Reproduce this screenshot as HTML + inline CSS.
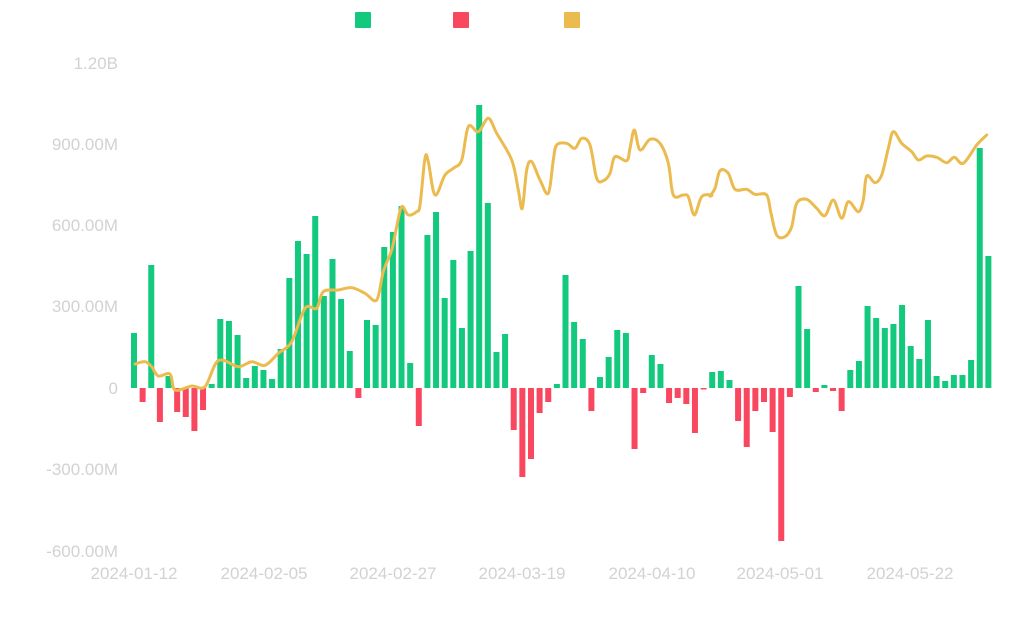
<!DOCTYPE html>
<html><head><meta charset="utf-8"><style>
html,body{margin:0;padding:0;background:#fff;width:1024px;height:630px;overflow:hidden}
text{font-family:"Liberation Sans","DejaVu Sans",sans-serif;fill:#d2d2d2;font-size:17px}
</style></head><body>
<svg id="s" width="1024" height="630" xmlns="http://www.w3.org/2000/svg">
<rect x="355" y="12" width="16" height="16" rx="1" fill="#12c97e"/>
<rect x="453" y="12" width="16" height="16" rx="1" fill="#f9475f"/>
<rect x="564" y="12" width="16" height="16" rx="1" fill="#ebbb4f"/>
<g text-anchor="end">
<text x="118" y="69">1.20B</text>
<text x="118" y="150">900.00M</text>
<text x="118" y="231">600.00M</text>
<text x="118" y="312">300.00M</text>
<text x="118" y="394">0</text>
<text x="118" y="557">-600.00M</text>
<text x="118" y="475">-300.00M</text>
</g>
<g text-anchor="middle">
<text x="134" y="579">2024-01-12</text>
<text x="264" y="579">2024-02-05</text>
<text x="393" y="579">2024-02-27</text>
<text x="522" y="579">2024-03-19</text>
<text x="652" y="579">2024-04-10</text>
<text x="780" y="579">2024-05-01</text>
<text x="910" y="579">2024-05-22</text>
</g>
<g id="bars"></g>
<path id="ln" fill="none" stroke="#ebbb4f" stroke-width="3" stroke-linejoin="round" stroke-linecap="round"/>
</svg>
<script>
var v=[55,-14,123,-34,12,-24,-29,-43,-22,4,69,67,53,10,22,18,9,39,110,147,134,172,92,129,89,37,-10,68,63,141,156,182,25,-38,
153,176,90,128,60,137,283,185,36,54,-42,-89,-71,-25,-14,4,113,66,49,-23,11,31,58,55,-61,-5,33,24,-15,-10,-16,-45,-1,16,
17,8,-33,-59,-23,-14,-44,-153,-9,102,59,-4,3,-3,-23,18,27,82,70,60,64,83,42,29,68,12,7,13,13,28,240,132];
var z=388,g=document.getElementById('bars'),h='';
for(var i=0;i<v.length;i++){var x=131+i*8.63,hh=Math.max(Math.abs(v[i]),1.5);
h+='<rect x="'+x.toFixed(2)+'" y="'+(v[i]>=0?z-hh:z)+'" width="6" height="'+hh+'" fill="'+(v[i]>=0?'#12c97e':'#f9475f')+'"/>';}
g.innerHTML=h;
var a=[[30,822],[60,815],[80,830],[100,858],[135,852],[150,900],[200,888],[240,890],[280,812],[340,830],[380,815],[420,826],[460,790],[500,755],[540,655],[575,655],[595,605],[640,600],[680,593],[720,610],[755,630],[775,545],[800,480],[815,410],[830,350],[850,375],[875,365]];
var b=[[0,345],[15,205],[25,215],[45,315],[75,255],[100,235],[125,210],[145,110],[175,125],[205,85],[230,130],[275,210],[295,300],[307,355],[320,240],[335,215],[360,270],[385,310],[400,210],[410,165],[440,160],[465,175],[485,145],[510,165],[530,265],[550,272],[570,250],[585,200],[620,212],[630,175],[643,120],[660,180],[690,148],[720,160],[745,220],[760,315],[790,315],[805,320],[823,375],[845,320],[875,315]];
var c=[[0,318],[15,295],[30,242],[55,250],[75,298],[110,298],[135,313],[170,315],[183,370],[200,435],[225,440],[245,410],[260,340],[290,328],[320,355],[345,377],[370,330],[395,385],[415,335],[445,365],[460,330],[470,258],[495,278],[515,255],[535,175],[550,125],[575,160],[605,185],[625,210],[650,198],[680,202],[710,218],[733,202],[760,220],[800,165],[830,135]];
var p=[];a.forEach(function(q){p.push([125+q[0]/3,90+q[1]/3])});
b.forEach(function(q){p.push([420+q[0]/3,90+q[1]/3])});
c.forEach(function(q){p.push([710+q[0]/3,90+q[1]/3])});
var d='M'+p[0][0]+','+p[0][1];
for(var i=0;i<p.length-1;i++){var p0=p[Math.max(0,i-1)],p1=p[i],p2=p[i+1],p3=p[Math.min(p.length-1,i+2)];
d+=' C'+(p1[0]+(p2[0]-p0[0])/6).toFixed(1)+','+(p1[1]+(p2[1]-p0[1])/6).toFixed(1)+' '+(p2[0]-(p3[0]-p1[0])/6).toFixed(1)+','+(p2[1]-(p3[1]-p1[1])/6).toFixed(1)+' '+p2[0].toFixed(1)+','+p2[1].toFixed(1);}
document.getElementById('ln').setAttribute('d',d);
</script>
</body></html>
